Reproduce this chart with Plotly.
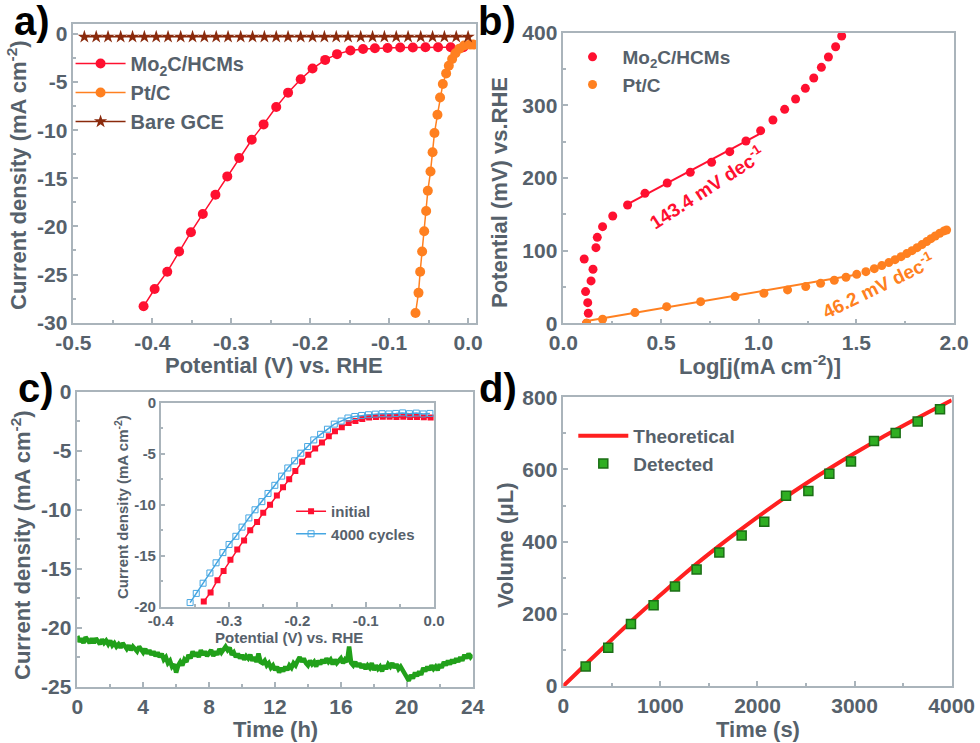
import plotly.graph_objects as go

# ---- panel a: polarisation curves ----
mo_x = [-0.411, -0.397, -0.381, -0.366, -0.351, -0.336, -0.320, -0.305, -0.290, -0.274,
        -0.259, -0.243, -0.228, -0.212, -0.197, -0.181, -0.166, -0.149, -0.133, -0.118,
        -0.102, -0.086, -0.070, -0.054, -0.038, -0.022, -0.006]
mo_y = [-28.3, -26.5, -24.7, -22.6, -20.6, -18.7, -16.7, -14.8, -12.9, -11.0,
        -9.4, -7.6, -6.1, -4.7, -3.6, -2.7, -2.1, -1.73, -1.56, -1.49,
        -1.46, -1.42, -1.42, -1.39, -1.39, -1.39, -1.39]
pt_x = [-0.0666, -0.0628, -0.0607, -0.0582, -0.0556, -0.0531, -0.0510, -0.0476, -0.0450, -0.0426,
        -0.0388, -0.0355, -0.0320, -0.0278, -0.0244, -0.0202, -0.0160, -0.0110, -0.0050, 0.0025, 0.0070]
pt_y = [-29.0, -26.9, -24.7, -22.6, -20.5, -18.4, -16.3, -14.3, -12.3, -10.3,
        -8.4, -6.6, -5.2, -4.1, -3.3, -2.6, -2.0, -1.53, -1.21, -1.11, -1.11]
gce_x = [-0.486, -0.471, -0.456, -0.440, -0.425, -0.410, -0.395, -0.380, -0.364, -0.349, -0.334,
         -0.319, -0.304, -0.288, -0.273, -0.258, -0.243, -0.228, -0.212, -0.197, -0.182, -0.167,
         -0.152, -0.136, -0.121, -0.106, -0.091, -0.076, -0.060, -0.045, -0.030, -0.015, 0.000]
gce_y = [-0.3, -0.3, -0.3, -0.3, -0.3, -0.3, -0.3, -0.3, -0.3, -0.3, -0.3,
         -0.3, -0.3, -0.3, -0.3, -0.3, -0.3, -0.3, -0.3, -0.3, -0.3, -0.3,
         -0.3, -0.3, -0.3, -0.3, -0.3, -0.3, -0.3, -0.3, -0.3, -0.3, -0.3]

# ---- panel b: Tafel plots ----
tmo_x = [0.119, 0.128, 0.125, 0.114, 0.142, 0.152, 0.107, 0.167, 0.174, 0.201, 0.253, 0.329,
         0.418, 0.532, 0.650, 0.759, 0.852, 0.935, 1.010, 1.073, 1.133, 1.189, 1.239, 1.282,
         1.321, 1.357, 1.394, 1.425]
tmo_y = [0, 13.8, 28.4, 43.6, 58.3, 74.3, 88.5, 104.1, 118.3, 133.0, 147.7, 162.8,
         178.9, 193.1, 207.8, 221.6, 236.2, 250.9, 265.1, 279.8, 294.5, 308.7, 323.4, 337.6,
         352.3, 366.5, 380.7, 395.4]
tpt_x = [0.119, 0.201, 0.367, 0.529, 0.703, 0.879, 1.027, 1.148, 1.241, 1.317, 1.387, 1.447,
         1.502, 1.549, 1.592, 1.630, 1.666, 1.698, 1.729, 1.758, 1.785, 1.811, 1.836, 1.860,
         1.882, 1.904, 1.927, 1.949, 1.962]
tpt_y = [0, 5.5, 14.7, 22.9, 29.8, 36.7, 41.3, 45.9, 50.5, 55.0, 59.2, 63.3,
         67.4, 71.1, 75.2, 79.4, 83.5, 87.6, 91.7, 95.9, 100.0, 104.1, 108.3, 112.4,
         116.5, 120.2, 123.9, 127.1, 128.4]
fit_mo_x = [0.32, 1.01]
fit_mo_y = [162.5, 261.4]
fit_pt_x = [0.12, 1.52]
fit_pt_y = [3.0, 67.7]

# ---- panel c: 24 h stability, one reading every 0.125 h ----
time_h = [
    0.000, 0.125, 0.250, 0.375, 0.500, 0.625, 0.750, 0.875, 1.000, 1.125, 1.250, 1.375, 1.500, 1.625, 1.750, 1.875,
    2.000, 2.125, 2.250, 2.375, 2.500, 2.625, 2.750, 2.875, 3.000, 3.125, 3.250, 3.375, 3.500, 3.625, 3.750, 3.875,
    4.000, 4.125, 4.250, 4.375, 4.500, 4.625, 4.750, 4.875, 5.000, 5.125, 5.250, 5.375, 5.500, 5.625, 5.750, 5.875,
    6.000, 6.125, 6.250, 6.375, 6.500, 6.625, 6.750, 6.875, 7.000, 7.125, 7.250, 7.375, 7.500, 7.625, 7.750, 7.875,
    8.000, 8.125, 8.250, 8.375, 8.500, 8.625, 8.750, 8.875, 9.000, 9.125, 9.250, 9.375, 9.500, 9.625, 9.750, 9.875,
    10.000, 10.125, 10.250, 10.375, 10.500, 10.625, 10.750, 10.875, 11.000, 11.125, 11.250, 11.375, 11.500, 11.625, 11.750, 11.875,
    12.000, 12.125, 12.250, 12.375, 12.500, 12.625, 12.750, 12.875, 13.000, 13.125, 13.250, 13.375, 13.500, 13.625, 13.750, 13.875,
    14.000, 14.125, 14.250, 14.375, 14.500, 14.625, 14.750, 14.875, 15.000, 15.125, 15.250, 15.375, 15.500, 15.625, 15.750, 15.875,
    16.000, 16.125, 16.250, 16.375, 16.500, 16.625, 16.750, 16.875, 17.000, 17.125, 17.250, 17.375, 17.500, 17.625, 17.750, 17.875,
    18.000, 18.125, 18.250, 18.375, 18.500, 18.625, 18.750, 18.875, 19.000, 19.125, 19.250, 19.375, 19.500, 19.625, 19.750, 19.875,
    20.000, 20.125, 20.250, 20.375, 20.500, 20.625, 20.750, 20.875, 21.000, 21.125, 21.250, 21.375, 21.500, 21.625, 21.750, 21.875,
    22.000, 22.125, 22.250, 22.375, 22.500, 22.625, 22.750, 22.875, 23.000, 23.125, 23.250, 23.375, 23.500, 23.625, 23.750, 23.875,
    24.000]
current = [
    -20.7, -21.2, -20.9, -21.3, -20.8, -21.1, -21.3, -20.9, -21.3, -20.9, -21.2, -21.4, -21.0, -21.3, -21.1, -21.4,
    -21.1, -21.5, -21.3, -21.6, -21.4, -21.7, -21.3, -21.6, -21.8, -21.5, -21.9, -21.6, -21.8, -22.0, -21.6, -21.9,
    -22.1, -21.8, -22.2, -21.9, -22.3, -22.0, -22.4, -22.1, -22.5, -22.2, -22.7, -22.5, -23.0, -22.8, -23.3, -23.1,
    -23.8, -23.2, -22.9, -23.2, -22.7, -22.9, -22.3, -22.6, -22.0, -22.4, -22.1, -22.5, -21.9, -22.3, -22.0, -22.4,
    -22.2, -21.9, -22.4, -22.0, -22.3, -21.8, -22.1, -21.9, -21.6, -21.9, -21.7, -22.3, -22.1, -22.5, -22.2, -22.6,
    -22.3, -22.7, -22.4, -22.6, -22.3, -22.8, -22.5, -22.9, -22.2, -22.9, -23.0, -22.8, -23.2, -23.0, -23.4, -23.2,
    -23.6, -23.3, -23.8, -23.4, -23.7, -23.3, -23.6, -23.2, -23.4, -23.0, -23.2, -22.8, -22.5, -22.9, -22.6, -23.0,
    -23.2, -22.8, -23.1, -22.9, -23.3, -22.8, -23.1, -22.7, -23.0, -22.6, -22.9, -22.7, -23.1, -22.7, -23.0, -22.8,
    -22.6, -23.0, -22.7, -22.9, -21.6, -23.0, -23.2, -22.9, -23.3, -23.0, -23.4, -23.1, -23.5, -23.2, -23.4, -23.0,
    -23.6, -23.2, -23.5, -23.3, -23.7, -23.2, -23.5, -23.1, -23.3, -23.0, -23.4, -23.1, -23.5, -23.3, -23.7, -23.9,
    -24.2, -24.5, -24.0, -24.3, -23.8, -24.1, -23.7, -24.0, -23.4, -23.7, -23.3, -23.6, -23.2, -23.5, -23.3, -23.6,
    -23.1, -23.4, -22.9, -23.2, -22.8, -23.1, -22.7, -23.0, -22.6, -22.9, -22.5, -22.8, -22.3, -22.6, -22.2, -22.5,
    -22.3]

# inset: LSV before / after cycling
init_x = [-0.337, -0.327, -0.317, -0.308, -0.298, -0.288, -0.278, -0.269, -0.259, -0.250, -0.240,
          -0.230, -0.221, -0.212, -0.203, -0.193, -0.184, -0.174, -0.164, -0.154, -0.145, -0.135,
          -0.125, -0.115, -0.105, -0.095, -0.085, -0.075, -0.065, -0.055, -0.045, -0.035, -0.025,
          -0.015, -0.005]
init_y = [-19.5, -18.6, -17.4, -16.5, -15.4, -14.4, -13.5, -12.5, -11.7, -10.8, -10.0,
          -9.1, -8.3, -7.5, -6.7, -5.8, -5.1, -4.5, -3.9, -3.3, -2.8, -2.4,
          -2.0, -1.8, -1.6, -1.45, -1.4, -1.38, -1.38, -1.4, -1.38, -1.4, -1.4,
          -1.42, -1.45]
cyc_x = [-0.357, -0.348, -0.338, -0.328, -0.319, -0.309, -0.300, -0.290, -0.281, -0.271, -0.262,
         -0.252, -0.243, -0.233, -0.223, -0.214, -0.204, -0.195, -0.185, -0.176, -0.166, -0.156,
         -0.146, -0.136, -0.126, -0.116, -0.106, -0.096, -0.086, -0.076, -0.066, -0.056, -0.046,
         -0.036, -0.026, -0.016, -0.006]
cyc_y = [-19.6, -18.7, -17.7, -16.7, -15.7, -14.7, -13.9, -13.1, -12.2, -11.3, -10.5,
         -9.7, -8.9, -8.1, -7.2, -6.4, -5.7, -4.95, -4.3, -3.65, -3.1, -2.6,
         -2.1, -1.8, -1.5, -1.35, -1.25, -1.18, -1.12, -1.08, -1.1, -1.05, -1.0,
         -1.08, -1.02, -1.1, -1.05]

# ---- panel d: H2 volume ----
theo_t = [0, 250, 500, 750, 1000, 1250, 1500, 1750, 2000, 2250, 2500, 2750, 3000, 3250, 3500, 3750, 4000]
theo_v = [0, 65, 129, 192, 252, 311, 366, 418, 468, 516, 561, 604, 645, 684, 721, 757, 792]
det_t = [230, 463, 697, 930, 1150, 1373, 1607, 1837, 2070, 2294, 2524, 2740, 2963, 3200, 3423, 3650, 3880]
det_v = [54, 106, 172, 224, 276, 323, 370, 417, 455, 527, 540, 588, 622, 679, 701, 733, 767]

# tick labels
a_xticks = [-0.5, -0.4, -0.3, -0.2, -0.1, 0.0]
a_xlabels = ['-0.5', '-0.4', '-0.3', '-0.2', '-0.1', '0.0']
a_yticks = [-30, -25, -20, -15, -10, -5, 0]
a_ylabels = ['-30', '-25', '-20', '-15', '-10', '-5', '0']
b_xticks = [0, 0.5, 1.0, 1.5, 2.0]
b_xlabels = ['0.0', '0.5', '1.0', '1.5', '2.0']
b_yticks = [0, 100, 200, 300, 400]
c_xticks = [0, 4, 8, 12, 16, 20, 24]
c_yticks = [-25, -20, -15, -10, -5, 0]
c_ylabels = ['-25', '-20', '-15', '-10', '-5', '0']
i_xticks = [-0.4, -0.3, -0.2, -0.1, 0.0]
i_xlabels = ['-0.4', '-0.3', '-0.2', '-0.1', '0.0']
i_yticks = [-20, -15, -10, -5, 0]
i_ylabels = ['-20', '-15', '-10', '-5', '0']
d_xticks = [0, 1000, 2000, 3000, 4000]
d_yticks = [0, 200, 400, 600, 800]

RED = '#ff1030'
ORANGE = '#ff8020'
BROWN = '#8a2a0c'
GREEN = '#21a01a'
BLUE = '#45a6e2'
TXT = '#56616b'
FRAME = '#aab4bb'
FONT = 'Liberation Sans, Arial, sans-serif'

fig = go.Figure()

# panel a
fig.add_trace(go.Scatter(x=mo_x, y=mo_y, mode='lines+markers', name='Mo<sub>2</sub>C/HCMs',
                         line=dict(color=RED, width=1.5), marker=dict(size=10, color=RED),
                         xaxis='x', yaxis='y', legend='legend'))
fig.add_trace(go.Scatter(x=pt_x, y=pt_y, mode='lines+markers', name='Pt/C',
                         line=dict(color=ORANGE, width=1.5), marker=dict(size=10, color=ORANGE),
                         xaxis='x', yaxis='y', legend='legend'))
fig.add_trace(go.Scatter(x=gce_x, y=gce_y, mode='lines+markers', name='Bare GCE',
                         line=dict(color=BROWN, width=1.5),
                         marker=dict(size=10, color=BROWN, symbol='star'),
                         xaxis='x', yaxis='y', legend='legend'))

# panel b
fig.add_trace(go.Scatter(x=tmo_x, y=tmo_y, mode='markers', name='Mo<sub>2</sub>C/HCMs',
                         marker=dict(size=9, color=RED), xaxis='x2', yaxis='y2', legend='legend2'))
fig.add_trace(go.Scatter(x=tpt_x, y=tpt_y, mode='markers', name='Pt/C',
                         marker=dict(size=9, color=ORANGE), xaxis='x2', yaxis='y2', legend='legend2'))
fig.add_trace(go.Scatter(x=fit_mo_x, y=fit_mo_y, mode='lines', line=dict(color=RED, width=2),
                         showlegend=False, xaxis='x2', yaxis='y2'))
fig.add_trace(go.Scatter(x=fit_pt_x, y=fit_pt_y, mode='lines', line=dict(color=ORANGE, width=2),
                         showlegend=False, xaxis='x2', yaxis='y2'))

# panel c
fig.add_trace(go.Scatter(x=time_h, y=current, mode='lines', line=dict(color=GREEN, width=4.5),
                         showlegend=False, xaxis='x3', yaxis='y3'))
fig.add_trace(go.Scatter(x=init_x, y=init_y, mode='lines+markers', name='initial',
                         line=dict(color=RED, width=1.5),
                         marker=dict(size=6, color=RED, symbol='square'),
                         xaxis='x5', yaxis='y5', legend='legend3'))
fig.add_trace(go.Scatter(x=cyc_x, y=cyc_y, mode='lines+markers', name='4000 cycles',
                         line=dict(color=BLUE, width=1.5),
                         marker=dict(size=6, color=BLUE, symbol='square-open'),
                         xaxis='x5', yaxis='y5', legend='legend3'))

# panel d
fig.add_trace(go.Scatter(x=theo_t, y=theo_v, mode='lines', name='Theoretical',
                         line=dict(color='#ff2020', width=4, shape='spline'),
                         xaxis='x4', yaxis='y4', legend='legend4'))
fig.add_trace(go.Scatter(x=det_t, y=det_v, mode='markers', name='Detected',
                         marker=dict(size=9, color='#2fae22', symbol='square',
                                     line=dict(color='#1b6e15', width=1.5)),
                         xaxis='x4', yaxis='y4', legend='legend4'))


def ax(domain, anchor, rng, tickvals, ticktext, minor, size=21):
    return dict(domain=domain, anchor=anchor, range=rng, tickvals=tickvals, ticktext=ticktext,
                automargin=False,
                showline=True, mirror=True, linecolor=FRAME, linewidth=1.5,
                ticks='inside', ticklen=5, tickwidth=1.5, tickcolor=FRAME,
                minor=dict(ticks='inside', ticklen=3, tickcolor=FRAME, dtick=minor),
                showgrid=False, zeroline=False,
                tickfont=dict(family=FONT, size=size, color=TXT, weight='bold'))


def legend(x, y, size, itemwidth=50):
    return dict(x=x, y=y, xanchor='left', yanchor='top', bgcolor='rgba(0,0,0,0)',
                font=dict(family=FONT, size=size, color=TXT, weight='bold'),
                itemwidth=itemwidth, tracegroupgap=0)


W, H = 980, 743
layout = dict(
    width=W, height=H, margin=dict(l=0, r=0, t=0, b=0, autoexpand=False),
    paper_bgcolor='white', plot_bgcolor='rgba(0,0,0,0)',
    xaxis=ax([0.0748, 0.4857], 'y', [-0.5, 0.01], a_xticks, a_xlabels, 0.05),
    yaxis=ax([0.5657, 0.9673], 'x', [-30, 1], a_yticks, a_ylabels, 2.5),
    xaxis2=ax([0.5748, 0.9735], 'y2', [0, 2], b_xticks, b_xlabels, 0.25),
    yaxis2=ax([0.5649, 0.956], 'x2', [0, 400], b_yticks, [str(v) for v in b_yticks], 50),
    xaxis3=ax([0.0789, 0.4823], 'y3', [0, 24], c_xticks, [str(v) for v in c_xticks], 2),
    yaxis3=ax([0.0758, 0.4728], 'x3', [-25, 0], c_yticks, c_ylabels, 2.5),
    xaxis4=ax([0.5748, 0.9711], 'y4', [0, 4000], d_xticks, [str(v) for v in d_xticks], 500),
    yaxis4=ax([0.0767, 0.4653], 'x4', [0, 800], d_yticks, [str(v) for v in d_yticks], 100),
    xaxis5=ax([0.164, 0.4429], 'y5', [-0.4, 0], i_xticks, i_xlabels, 0.05, 15),
    yaxis5=ax([0.1835, 0.458], 'x5', [-20, 0], i_yticks, i_ylabels, 2.5, 15),
    legend=legend(0.072, 1 - 44 / H, 20),
    legend2=legend(0.574, 1 - 38 / H, 19),
    legend3=legend(0.297, 1 - 495 / H, 15, itemwidth=30),
    legend4=legend(0.585, 1 - 417 / H, 19),
    showlegend=True,
)
fig.update_layout(**layout)


def label(text, x, y, size=22, angle=0, color=TXT, ref=('paper', 'paper')):
    fig.add_annotation(text=text, x=x, y=y, xref=ref[0], yref=ref[1], showarrow=False,
                       textangle=angle, xanchor='center', yanchor='middle',
                       font=dict(family=FONT, size=size, color=color, weight='bold'))


# axis titles (pixel positions converted to paper)
label('Potential (V) vs. RHE', 274 / W, 1 - 365 / H)
label('Log[j(mA cm<sup>-2</sup>)]', 760 / W, 1 - 365 / H)
label('Time (h)', 275 / W, 1 - 729 / H)
label('Time (s)', 758 / W, 1 - 729 / H)
label('Current density (mA cm<sup>-2</sup>)', 17 / W, 1 - 175 / H, angle=-90)
label('Potential (mV) vs.RHE', 499 / W, 1 - 193 / H, angle=-90)
label('Current density (mA cm<sup>-2</sup>)', 21 / W, 1 - 545 / H, angle=-90)
label('Volume (μL)', 505 / W, 1 - 545 / H, angle=-90)
label('Current density (mA cm<sup>-2</sup>)', 121 / W, 1 - 507 / H, size=15, angle=-90)
label('Potential (V) vs. RHE', 289 / W, 1 - 637 / H, size=15)

# panel letters
label('a)', 32 / W, 1 - 21 / H, size=40, color='black')
label('b)', 497 / W, 1 - 21 / H, size=40, color='black')
label('c)', 36 / W, 1 - 388 / H, size=40, color='black')
label('d)', 498 / W, 1 - 388 / H, size=40, color='black')

# Tafel slopes
label('143.4 mV dec<sup>-1</sup>', 0.734, 188, size=19, angle=-33, color=RED, ref=('x2', 'y2'))
label('46.2 mV dec<sup>-1</sup>', 1.613, 53, size=19, angle=-26, color=ORANGE, ref=('x2', 'y2'))

# the page body has a default margin; drop it so the figure fills the window exactly
fig.write_html('out.html', config={'displayModeBar': False},
               post_script="document.body.style.margin='0';")
